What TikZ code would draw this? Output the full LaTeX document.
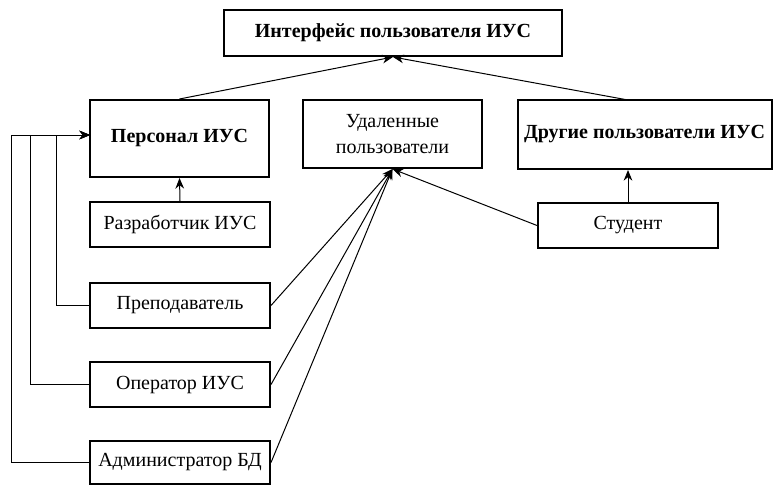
\documentclass[tikz,border=0pt]{standalone}
\usepackage{fontspec}
\setmainfont{Liberation Serif}
\usetikzlibrary{arrows.meta}

\begin{document}
\begin{tikzpicture}[x=0.75pt,y=-0.75pt,
    >={Stealth[length=8pt,width=6.5pt]},
    box/.style 2 args={draw,line width=1.5pt,inner sep=0pt,align=center,
      minimum width=#1*0.75pt,minimum height=#2*0.75pt,
      font=\fontsize{15}{19}\selectfont},
    bold/.style={font=\fontsize{15}{19}\selectfont\bfseries},
    link/.style={line width=0.75pt}]
  \useasboundingbox (0,0) rectangle (773,486);
  \node[box={338}{46},bold] (iface) at (393,33) {Интерфейс пользователя ИУС};
  \node[box={179}{77},bold] (staff) at (179.5,138.5) {Персонал ИУС};
  \node[box={179}{68}] (remote) at (392.5,134) {Удаленные\\пользователи};
  \node[box={254}{69},bold] (others) at (644.5,134.5) {Другие пользователи ИУС};
  \node[box={180}{45}] (dev) at (180,224.5) {Разработчик ИУС};
  \node[box={180}{45}] (student) at (628,225.5) {Студент};
  \node[box={180}{45}] (teacher) at (180,305.5) {Преподаватель};
  \node[box={180}{45}] (operator) at (180,384.5) {Оператор ИУС};
  \node[box={180}{43}] (admin) at (180,462.5) {Администратор БД};
  \coordinate (staffin) at (90,135);
  \coordinate (othersin) at (628,100);
  % upward links
  \draw[link,->] (staff.north) -- (iface.south);
  \draw[link,->] (othersin) -- (iface.south);
  \draw[link,->] (dev.north) -- (staff.south);
  \draw[link,->] (student.north) -- (student.north |- others.south);
  % remote users
  \draw[link,->] (teacher.east) -- (remote.south);
  \draw[link,->] (operator.east) -- (remote.south);
  \draw[link,->] (admin.east) -- (remote.south);
  \draw[link,->] (student.west) -- (remote.south);
  % staff members
  \draw[link,->] (teacher.west) -- ++(-33,0) |- (staffin);
  \draw[link,->] (operator.west) -- ++(-59,0) |- (staffin);
  \draw[link,->] (admin.west) -- ++(-78,0) |- (staffin);
\end{tikzpicture}
\end{document}
